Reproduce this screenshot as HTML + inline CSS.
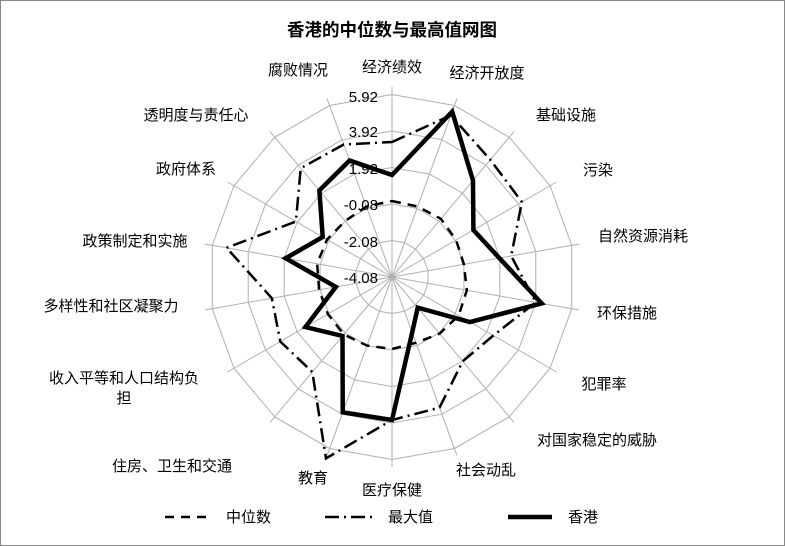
<!DOCTYPE html>
<html><head><meta charset="utf-8"><style>
html,body{margin:0;padding:0;background:#fff}
svg{display:block}
text{font-family:"Liberation Sans","Noto Sans CJK SC",sans-serif;font-size:15px;fill:#000}
</style></head><body>
<svg id="s" width="785" height="546" viewBox="0 0 785 546" xmlns="http://www.w3.org/2000/svg">
<rect x="0.5" y="0.5" width="784" height="545" fill="#fff" stroke="#888"/>
<g id="grid"></g>
<g id="series"></g>
<text x="392" y="36" text-anchor="middle" style="font-weight:bold;font-size:17.5px">香港的中位数与最高值网图</text>
<g style="font-size:14px" text-anchor="end">
<text x="378" y="102">5.92</text>
<text x="378" y="137">3.92</text>
<text x="378" y="174">1.92</text>
<text x="378" y="210">-0.08</text>
<text x="378" y="247">-2.08</text>
<text x="378" y="283">-4.08</text>
</g>
<g text-anchor="middle">
<text x="392" y="72">经济绩效</text>
<text x="487" y="78">经济开放度</text>
<text x="566" y="120">基础设施</text>
<text x="598" y="175">污染</text>
<text x="643" y="241">自然资源消耗</text>
<text x="627" y="318">环保措施</text>
<text x="604" y="389">犯罪率</text>
<text x="597" y="445">对国家稳定的威胁</text>
<text x="486" y="475">社会动乱</text>
<text x="392" y="495">医疗保健</text>
<text x="313" y="483">教育</text>
<text x="172" y="471">住房、卫生和交通</text>
<text x="124" y="383">收入平等和人口结构负</text>
<text x="124" y="403">担</text>
<text x="111" y="311">多样性和社区凝聚力</text>
<text x="135" y="246">政策制定和实施</text>
<text x="186" y="174">政府体系</text>
<text x="196" y="120">透明度与责任心</text>
<text x="298" y="75">腐败情况</text>
</g>
<line x1="165" y1="517" x2="207" y2="517" stroke="#000" stroke-width="2.5" stroke-dasharray="9,7"/>
<text x="226" y="522">中位数</text>
<line x1="325" y1="517" x2="372" y2="517" stroke="#000" stroke-width="2.5" stroke-dasharray="14,5,2,5"/>
<text x="388" y="522">最大值</text>
<line x1="508" y1="517" x2="552" y2="517" stroke="#000" stroke-width="4.5"/>
<text x="568" y="522">香港</text>
</svg>
<script>
var cx=392,cy=277,N=18;
function pt(i,r){var a=i*20*Math.PI/180;return [cx+r*Math.sin(a),cy-r*Math.cos(a)];}
var g=document.getElementById('grid'),h='';
for(var k=1;k<=5;k++){var p=[];for(var i=0;i<N;i++)p.push(pt(i,36.5*k).join(','));
h+='<polygon points="'+p.join(' ')+'" fill="none" stroke="#b0b0b0" stroke-width="1"/>';}
for(var i=0;i<N;i++){var q=pt(i,190);h+='<line x1="'+cx+'" y1="'+cy+'" x2="'+q[0]+'" y2="'+q[1]+'" stroke="#b0b0b0" stroke-width="1"/>';}
g.innerHTML=h;
var med=[76,75,76,74,73,76,77,74,70,72,73,75,74,74,76,75,73,75];
var mx=[135,172,153,150,121,146,117,110,139,143,193,124,129,122,168,111,142,141];
var hk=[102,176,126,94,109,152,90,40,59,143,144,77,100,57,108,80,113,124];
function poly(d,st){var p=[];for(var i=0;i<N;i++)p.push(pt(i,d[i]).join(','));
return '<polygon points="'+p.join(' ')+'" fill="none" stroke="#000" '+st+' stroke-linejoin="miter"/>';}
document.getElementById('series').innerHTML=
poly(med,'stroke-width="2.5" stroke-dasharray="9,7"')+
poly(mx,'stroke-width="2.5" stroke-dasharray="14,5,2,5"')+
poly(hk,'stroke-width="4.5"');
</script>
</body></html>
